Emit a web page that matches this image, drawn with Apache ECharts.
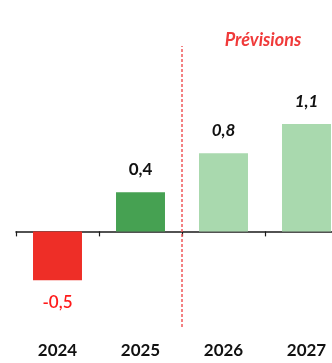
<!DOCTYPE html>
<html>
<head>
<meta charset="utf-8">
<script src="https://cdn.jsdelivr.net/npm/echarts@6/dist/echarts.min.js"></script>
<style>
  html, body { margin: 0; padding: 0; background: #fff; }
  #chart { width: 332px; height: 363px; }
</style>
</head>
<body>
<div id="chart"></div>
<script>
// Croissance annuelle, réalisé puis prévisions
const years = ['2024', '2025', '2026', '2027'];
const growth = [-0.5, 0.4, 0.8, 1.1];
const isForecast = [false, false, true, true];
const forecastLabel = 'Prévisions';
const forecastBoundary = 2; // limite entre 2025 et 2026, en index de catégorie

const FONT = 'Lato, "Open Sans", sans-serif';
const fmt = v => v.toFixed(1).replace('.', ',');

function barColor(v, i) {
  if (isForecast[i]) return '#a9d9ae';
  return v < 0 ? '#ee2e27' : '#46a152';
}

const barData = growth.map((v, i) => ({
  value: v,
  itemStyle: { color: barColor(v, i) },
  label: {
    position: v < 0 ? 'bottom' : 'top',
    color: v < 0 ? '#ff1a1a' : '#111',
    fontWeight: v < 0 ? 600 : 'bold',
    fontStyle: isForecast[i] ? 'italic' : 'normal'
  }
}));

const chart = echarts.init(document.getElementById('chart'), null, { renderer: 'canvas' });
chart.setOption({
  animation: false,
  grid: {
    left: 16, top: 46, width: 332, height: 281,
    containLabel: false,
    outerBoundsMode: 'none'
  },
  xAxis: [
    {
      // ligne du zéro avec graduations
      type: 'category',
      data: years,
      position: 'bottom',
      axisLine: { onZero: true, lineStyle: { color: '#1a1a1a', width: 1.5 } },
      axisTick: { show: true, alignWithLabel: false, length: 5, lineStyle: { color: '#1a1a1a', width: 1.2 } },
      axisLabel: { show: false },
      splitLine: { show: false }
    },
    {
      // années en bas du graphique
      type: 'category',
      data: years,
      position: 'bottom',
      axisLine: { show: false, onZero: false },
      axisTick: { show: false },
      axisLabel: {
        margin: 15,
        color: '#111',
        fontFamily: FONT,
        fontWeight: 'bold',
        fontSize: 17
      },
      splitLine: { show: false }
    },
    {
      type: 'value',
      position: 'top',
      min: 0,
      max: years.length,
      show: false
    }
  ],
  yAxis: {
    type: 'value',
    min: -0.98,
    max: 1.9,
    show: false,
    splitLine: { show: false }
  },
  series: [
    {
      type: 'bar',
      data: barData,
      barWidth: '59%',
      xAxisIndex: 0,
      label: {
        show: true,
        distance: 14,
        fontFamily: FONT,
        fontSize: 17,
        formatter: p => fmt(p.value)
      }
    },
    {
      type: 'line',
      xAxisIndex: 2,
      data: [[forecastBoundary, 0]],
      showSymbol: false,
      lineStyle: { opacity: 0 },
      silent: true,
      markLine: {
        silent: true,
        symbol: 'none',
        label: { show: false },
        lineStyle: { color: '#f0585a', type: [3, 2], width: 1.5 },
        data: [{ xAxis: forecastBoundary }]
      }
    }
  ],
  graphic: [
    {
      type: 'text',
      x: 263,
      y: 40,
      style: {
        text: forecastLabel,
        fill: '#f03a3a',
        fontFamily: FONT,
        fontWeight: 'bold',
        fontStyle: 'italic',
        fontSize: 18,
        align: 'center',
        verticalAlign: 'middle'
      }
    }
  ]
});
</script>
</body>
</html>
